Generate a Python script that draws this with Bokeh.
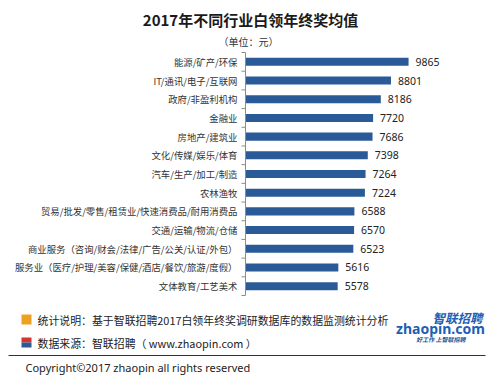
from bokeh.plotting import figure
from bokeh.models import ColumnDataSource, Range1d
from bokeh.core.properties import value
from bokeh.embed import file_html
from bokeh.resources import INLINE

categories = [
    "能源/矿产/环保",
    "IT/通讯/电子/互联网",
    "政府/非盈利机构",
    "金融业",
    "房地产/建筑业",
    "文化/传媒/娱乐/体育",
    "汽车/生产/加工/制造",
    "农林渔牧",
    "贸易/批发/零售/租赁业/快速消费品/耐用消费品",
    "交通/运输/物流/仓储",
    "商业服务（咨询/财会/法律/广告/公关/认证/外包）",
    "服务业（医疗/护理/美容/保健/酒店/餐饮/旅游/度假）",
    "文体教育/工艺美术",
]
values = [9865, 8801, 8186, 7720, 7686, 7398, 7264, 7224, 6588, 6570, 6523, 5616, 5578]

title_text = "2017年不同行业白领年终奖均值"
unit_text = "（单位：元）"
note_text = "统计说明：基于智联招聘2017白领年终奖调研数据库的数据监测统计分析"
source_text = "数据来源：智联招聘（ www.zhaopin.com ）"
copyright_text = "Copyright©2017 zhaopin all rights reserved"
logo_cn = "智联招聘"
logo_en = "zhaopin.com"
logo_slogan = "好工作  上智联招聘"

# ---- layout (page pixels; the figure fills the page) ----
FIG_W, FIG_H = 492, 380
AXIS_X, ROWS_TOP, ROWS_BOTTOM = 245, 52, 295
UPP = 60.5                      # value units per pixel
n = len(categories)
ROW_PX = (ROWS_BOTTOM - ROWS_TOP) / n

x_range = Range1d(-AXIS_X * UPP, (FIG_W - AXIS_X) * UPP)
y_range = Range1d((FIG_H - ROWS_TOP) / ROW_PX, -ROWS_TOP / ROW_PX)


def dx(px):
    return (px - AXIS_X) * UPP


def dy(py):
    return (py - ROWS_TOP) / ROW_PX


pos = [i + 0.5 for i in range(n)]
src = ColumnDataSource(dict(cat=categories, val=values, y=pos,
                            lbl=[str(v) for v in values],
                            zero=[0] * n))

p = figure(width=FIG_W, height=FIG_H, output_backend="svg", toolbar_location=None,
           x_range=x_range, y_range=y_range, min_border=0,
           x_axis_location=None, y_axis_location=None)
p.outline_line_color = None
p.grid.visible = False
p.background_fill_color = "white"
p.border_fill_color = "white"

# bars and value labels
p.hbar(y="y", right="val", left=0, height=0.43, source=src,
       fill_color="#2a5b98", line_color=None)
p.text(x="val", y="y", text="lbl", source=src, x_offset=7,
       text_baseline="middle", text_align="left",
       text_font=value("Noto Sans"), text_font_size="10.5px", text_color="#222222")

# category axis: line, ticks at row boundaries, labels
bounds = list(range(n + 1))
p.segment(x0=[0], y0=[0], x1=[0], y1=[n], line_color="#8c8c8c", line_width=1)
p.segment(x0=[0] * len(bounds), y0=bounds, x1=[dx(AXIS_X - 4)] * len(bounds), y1=bounds,
          line_color="#8c8c8c", line_width=1)
p.text(x="zero", y="y", text="cat", source=src, x_offset=-8,
       text_align="right", text_baseline="middle",
       text_font=value("Noto Sans CJK SC"), text_font_size="9.4px", text_color="#333333")


def add_text(text, px, py, size, color="#222222", style="normal", align="left",
             font="Noto Sans CJK SC"):
    p.text(x=[dx(px)], y=[dy(py)], text=[text], text_font=value(font),
           text_font_size=f"{size}px", text_color=color, text_align=align,
           text_baseline="middle", text_font_style=style)


add_text(title_text, 250, 19, 15, color="#1a1a1a", style="bold", align="center")
add_text(unit_text, 248, 41, 10, color="#333333", align="center")
add_text(note_text, 37, 319, 10.9)
add_text(source_text, 37, 342, 10.9)
add_text(copyright_text, 25, 367, 11, font="Noto Sans")
add_text(logo_cn, 457, 317, 12.5, color="#1d5fb3", style="bold italic", align="center")
add_text(logo_en, 440, 328, 14, color="#1d5fb3", style="bold", align="center", font="Noto Sans")
add_text(logo_slogan, 441, 339, 6, color="#1d4f8f", style="bold italic", align="center")

# footer decorations
p.segment(x0=[dx(8)], y0=[dy(355)], x1=[dx(485)], y1=[dy(355)], line_color="#333333", line_width=1)
p.quad(left=[dx(21)], right=[dx(31)], top=[dy(314)], bottom=[dy(324)],
       fill_color="#f0a020", line_color=None)
p.quad(left=[dx(21)], right=[dx(31)], top=[dy(337)], bottom=[dy(342)],
       fill_color="#d9342b", line_color=None)
p.quad(left=[dx(21)], right=[dx(31)], top=[dy(342)], bottom=[dy(347)],
       fill_color="#2a5b98", line_color=None)

open("out.html", "w").write(file_html(p, INLINE))
